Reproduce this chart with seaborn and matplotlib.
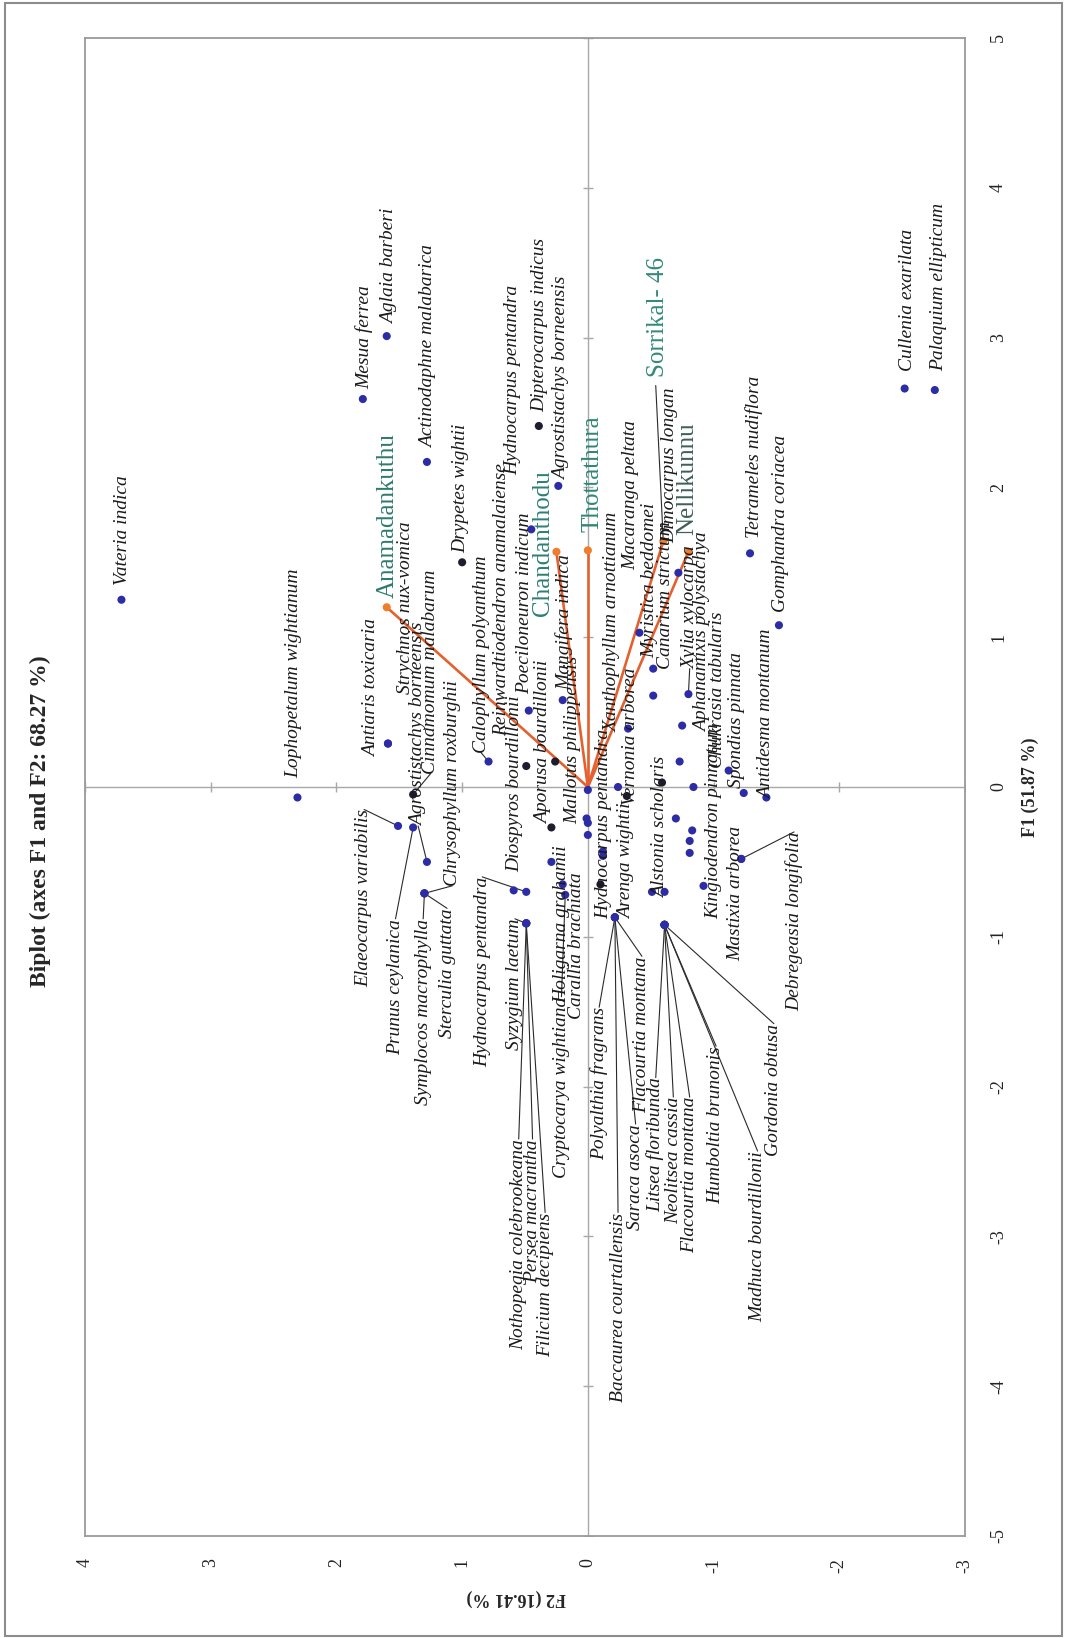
import matplotlib
matplotlib.use("Agg")
import matplotlib.pyplot as plt
import seaborn as sns
import pandas as pd
import numpy as np
from matplotlib.patches import Rectangle

# ---------------- data: species scores on F1 / F2 ----------------
species = [
    "Vateria indica", "Lophopetalum wightianum", "Mesua ferrea", "Aglaia barberi",
    "Actinodaphne malabarica", "Antiaris toxicaria", "Strychnos nux-vomica",
    "Cinnamomum malabarum", "Elaeocarpus variabilis", "Prunus ceylanica",
    "Agrostistachys borneensis", "Symplocos macrophylla", "Sterculia guttata",
    "Chrysophyllum roxburghii", "Drypetes wightii", "Calophyllum polyanthum",
    "Poeciloneuron indicum", "Reinwardtiodendron anamalaiense", "Holigarna grahamii",
    "Aporusa bourdillonii", "Mangifera indica", "Mallotus philippensis",
    "Carallia brachiata", "Cryptocarya wightiana", "Diospyros bourdillonii",
    "Hydnocarpus pentandra", "Syzygium laetum", "Nothopegia colebrookeana",
    "Persea macrantha", "Filicium decipiens", "Hydnocarpus pentandra",
    "Polyalthia fragrans", "Baccaurea courtallensis", "Saraca asoca",
    "Flacourtia montana", "Arenga wightii", "Vernonia arborea",
    "Xanthophyllum arnottianum", "Macaranga peltata", "Myristica beddomei",
    "Canarium strictum", "Alstonia scholaris", "Litsea floribunda",
    "Neolitsea cassia", "Flacourtia montana", "Humboltia brunonis",
    "Madhuca bourdillonii", "Gordonia obtusa", "Xylia xylocarpa",
    "Aphanamixis polystachya", "Chukrasia tabularis", "Kingiodendron pinnatum",
    "Spondias pinnata", "Antidesma montanum", "Mastixia arborea",
    "Debregeasia longifolia", "Gomphandra coriacea", "Tetrameles nudiflora",
    "Cullenia exarilata", "Palaquium ellipticum", "Dimocarpus longan",
    "Dipterocarpus indicus", "Agrostistachys borneensis", "Hydnocarpus pentandra",
]
f1 = [
    1.25, -0.07, 2.59, 3.01,
    2.17, 0.29, 0.29,
    -0.05, -0.26, -0.27,
    -0.50, -0.71, -0.71,
    -0.71, 1.50, 0.17,
    0.51, 0.14, -0.27,
    0.17, 0.58, -0.24,
    -0.50, -0.72, -0.69,
    -0.70, -0.91, -0.91,
    -0.91, -0.91, -0.65,
    -0.87, -0.87, -0.87,
    -0.87, -0.46, -0.06,
    0.39, 1.03, 0.79,
    0.61, 0.03, -0.92,
    -0.92, -0.92, -0.92,
    -0.92, -0.92, 0.62,
    0.41, 0.11, -0.66,
    -0.04, -0.07, -0.48,
    -0.48, 1.08, 1.56,
    2.66, 2.65, 1.43,
    2.41, 2.01, 1.72,
]
f2 = [
    3.71, 2.31, 1.79, 1.60,
    1.28, 1.59, 1.59,
    1.39, 1.51, 1.39,
    1.28, 1.30, 1.30,
    1.30, 1.00, 0.79,
    0.47, 0.49, 0.29,
    0.26, 0.20, 0.00,
    0.29, 0.18, 0.59,
    0.49, 0.49, 0.49,
    0.49, 0.49, -0.10,
    -0.215, -0.215, -0.215,
    -0.215, -0.12, -0.31,
    -0.32, -0.41, -0.52,
    -0.52, -0.59, -0.61,
    -0.61, -0.61, -0.61,
    -0.61, -0.61, -0.80,
    -0.75, -1.12, -0.92,
    -1.24, -1.42, -1.22,
    -1.22, -1.52, -1.29,
    -2.52, -2.76, -0.72,
    0.39, 0.235, 0.45,
]
# further observations whose names are hidden under neighbouring labels
other_f1 = [-0.02, -0.21, -0.32, -0.65, -0.43, 0.00, -0.70, -0.70,
            0.17, 0.00, -0.21, -0.29, -0.36, -0.44]
other_f2 = [0.00, 0.01, 0.00, 0.20, -0.12, -0.24, -0.51, -0.61,
            -0.73, -0.84, -0.70, -0.83, -0.81, -0.81]

# active variables (sites)
sites = ["Anamadankuthu", "Chandanthodu", "Thottathura", "Sorrikal- 46", "Nellikunnu"]
site_f1 = [1.20, 1.57, 1.58, 1.64, 1.57]
site_f2 = [1.60, 0.25, 0.00, -0.60, -0.80]

f1_ticks = [-5, -4, -3, -2, -1, 0, 1, 2, 3, 4, 5]
f2_ticks = [-3, -2, -1, 0, 1, 2, 3, 4]

title = "Biplot (axes F1 and F2: 68.27 %)"
f1_label = "F1 (51.87 %)"
f2_label = "F2 (16.41 %)"

# ---------------- layout ----------------
# darker markers
dark_idx = {7, 14, 17, 18, 19, 30, 36, 41, 61}
# label anchors (F2, F1) and whether the text hangs from the anchor ('t') or rises from it ('b')
label_pos = {
    0: (3.70, 1.35, 'b'), 1: (2.34, 0.06, 'b'), 2: (1.78, 2.66, 'b'), 3: (1.58, 3.09, 'b'),
    4: (1.27, 2.26, 'b'), 5: (1.72, 0.20, 'b'), 6: (1.45, 0.62, 'b'), 7: (1.25, 0.09, 'b'),
    8: (1.78, -0.15, 't'), 9: (1.53, -0.88, 't'), 10: (1.35, -0.26, 'b'),
    11: (1.31, -0.88, 't'), 12: (1.12, -0.81, 't'), 13: (1.08, -0.66, 'b'),
    14: (1.01, 1.56, 'b'), 15: (0.85, 0.23, 'b'), 16: (0.50, 0.62, 'b'),
    17: (0.69, 0.34, 'b'), 18: (0.21, -1.44, 'b'), 19: (0.35, -0.25, 'b'),
    20: (0.19, 0.65, 'b'), 21: (0.12, -0.25, 'b'), 22: (0.09, -1.55, 'b'),
    23: (0.21, -1.40, 't'), 24: (0.58, -0.57, 'b'), 25: (0.84, -0.60, 't'),
    26: (0.58, -0.88, 't'), 27: (0.55, -2.35, 't'), 28: (0.44, -2.35, 't'),
    29: (0.34, -2.84, 't'), 30: (-0.13, -0.88, 'b'), 31: (-0.09, -1.47, 't'),
    32: (-0.24, -2.84, 't'), 33: (-0.38, -2.25, 't'), 34: (-0.43, -1.13, 't'),
    35: (-0.31, -0.88, 'b'), 36: (-0.34, -0.12, 'b'), 37: (-0.19, 0.37, 'b'),
    38: (-0.34, 1.45, 'b'), 39: (-0.49, 0.86, 'b'), 40: (-0.62, 0.79, 'b'),
    41: (-0.58, -0.74, 'b'), 42: (-0.54, -1.94, 't'), 43: (-0.68, -2.07, 't'),
    44: (-0.81, -2.07, 't'), 45: (-1.02, -1.73, 't'), 46: (-1.35, -2.43, 't'),
    47: (-1.48, -1.58, 't'), 48: (-0.81, 0.79, 'b'), 49: (-0.91, 0.37, 'b'),
    50: (-1.03, 0.13, 'b'), 51: (-1.00, -0.88, 'b'), 52: (-1.18, -0.01, 'b'),
    53: (-1.42, -0.08, 'b'), 54: (-1.18, -1.16, 'b'), 55: (-1.64, -0.30, 't'),
    56: (-1.53, 1.17, 'b'), 57: (-1.32, 1.66, 'b'), 58: (-2.54, 2.78, 'b'),
    59: (-2.79, 2.78, 'b'), 60: (-0.65, 1.63, 'b'), 61: (0.38, 2.50, 'b'),
    62: (0.21, 2.05, 'b'), 63: (0.60, 2.08, 'b'),
}
# labels joined to their point by a leader line
leader_idx = [7, 8, 9, 10, 11, 12, 13, 15, 23, 25, 26, 27, 28, 29, 31, 32, 33, 34,
              42, 43, 44, 45, 46, 47, 48, 55]
site_label_pos = [(1.59, 1.26), (0.36, 1.14), (-0.04, 1.70), (-0.56, 2.74), (-0.79, 1.68)]
site_colors = ["#2d7a70", "#2d7f74", "#2f8777", "#338a7a", "#3f5f5b"]

W, H = 1066, 1638
sns.set_theme(style="white")
plt.rcParams['font.family'] = ['Liberation Serif', 'DejaVu Serif']

fig = plt.figure(figsize=(W / 100, H / 100), dpi=100)
ax = fig.add_axes([85 / W, 1 - 1536 / H, (965 - 85) / W, (1536 - 38) / H])

# zero lines with small graduation marks
ax.axhline(0, color="#a8a8a8", lw=1.0, zorder=1)
ax.axvline(0, color="#a8a8a8", lw=1.0, zorder=1)
ax.plot(np.zeros(len(f1_ticks)), f1_ticks, ls="none", marker="_", ms=7, color="#a8a8a8", zorder=1)
ax.plot(f2_ticks, np.zeros(len(f2_ticks)), ls="none", marker="|", ms=7, color="#a8a8a8", zorder=1)

# site vectors
for sx, sy in zip(site_f2, site_f1):
    ax.plot([0, sx], [0, sy], color="#e4602e", lw=1.9, zorder=3, solid_capstyle="round")

# observations
obs = pd.DataFrame({
    "F2": f2 + other_f2,
    "F1": f1 + other_f1,
    "tone": ["dark" if i in dark_idx else "blue" for i in range(len(f2))] + ["blue"] * len(other_f2),
})
sns.scatterplot(data=obs, x="F2", y="F1", hue="tone",
                palette={"blue": "#2c2ca6", "dark": "#1d1d2e"},
                s=34, edgecolor="none", legend=False, ax=ax, zorder=4)

# vector tips
tips = pd.DataFrame({"F2": site_f2, "F1": site_f1})
sns.scatterplot(data=tips, x="F2", y="F1", color="#ee7d2c", s=34, edgecolor="none",
                legend=False, ax=ax, zorder=5)

# leader lines
for i in leader_idx:
    lx, ly, side = label_pos[i]
    ax.plot([f2[i], lx], [f1[i], ly], color="#2a2a2a", lw=0.8, zorder=2)

# species labels
for i, name in enumerate(species):
    lx, ly, side = label_pos[i]
    ax.text(lx, ly, name, rotation=90, ha="center",
            va="bottom" if side == "b" else "top",
            fontsize=14, style="italic", color="#1a1a1a", zorder=6)

# site labels
ax.plot([site_f2[3], site_label_pos[3][0] + 0.02], [site_f1[3], site_label_pos[3][1] - 0.06],
        color="#2a2a2a", lw=0.8, zorder=2)
for (lx, ly), name, c in zip(site_label_pos, sites, site_colors):
    ax.text(lx, ly, name, rotation=90, ha="center", va="bottom",
            fontsize=18, color=c, zorder=6)

ax.set_xlim(4, -3)
ax.set_ylim(-5, 5)
ax.set_xticks(f2_ticks)
ax.set_yticks(f1_ticks)
ax.set_xticklabels([str(t) for t in f2_ticks], rotation=90, fontsize=13)
ax.set_yticklabels([str(t) for t in f1_ticks], rotation=90, fontsize=13, va="center")
ax.yaxis.tick_right()
ax.tick_params(axis="x", length=0, pad=16, colors="#222222")
ax.tick_params(axis="y", length=0, pad=18, colors="#222222")
ax.set_xlabel("")
ax.set_ylabel("")
for sp in ax.spines.values():
    sp.set_color("#9a9a9a")
    sp.set_linewidth(1.3)

fig.text(40 / W, 1 - 821 / H, title, rotation=90, ha="center", va="center",
         fontsize=17, fontweight="bold")
fig.text(1030 / W, 1 - 787 / H, f1_label, rotation=90, ha="center", va="center",
         fontsize=13, fontweight="bold")
fig.text(516 / W, 1 - 1598 / H, f2_label, rotation=180, ha="center", va="center",
         fontsize=13, fontweight="bold")

fig.patches.append(Rectangle((5 / W, 1 - 1636 / H), (1062 - 5) / W, (1636 - 3) / H,
                             transform=fig.transFigure, fill=False, ec="#8c8c8c", lw=1.5))

fig.savefig("out.png", dpi=100, facecolor="white")
